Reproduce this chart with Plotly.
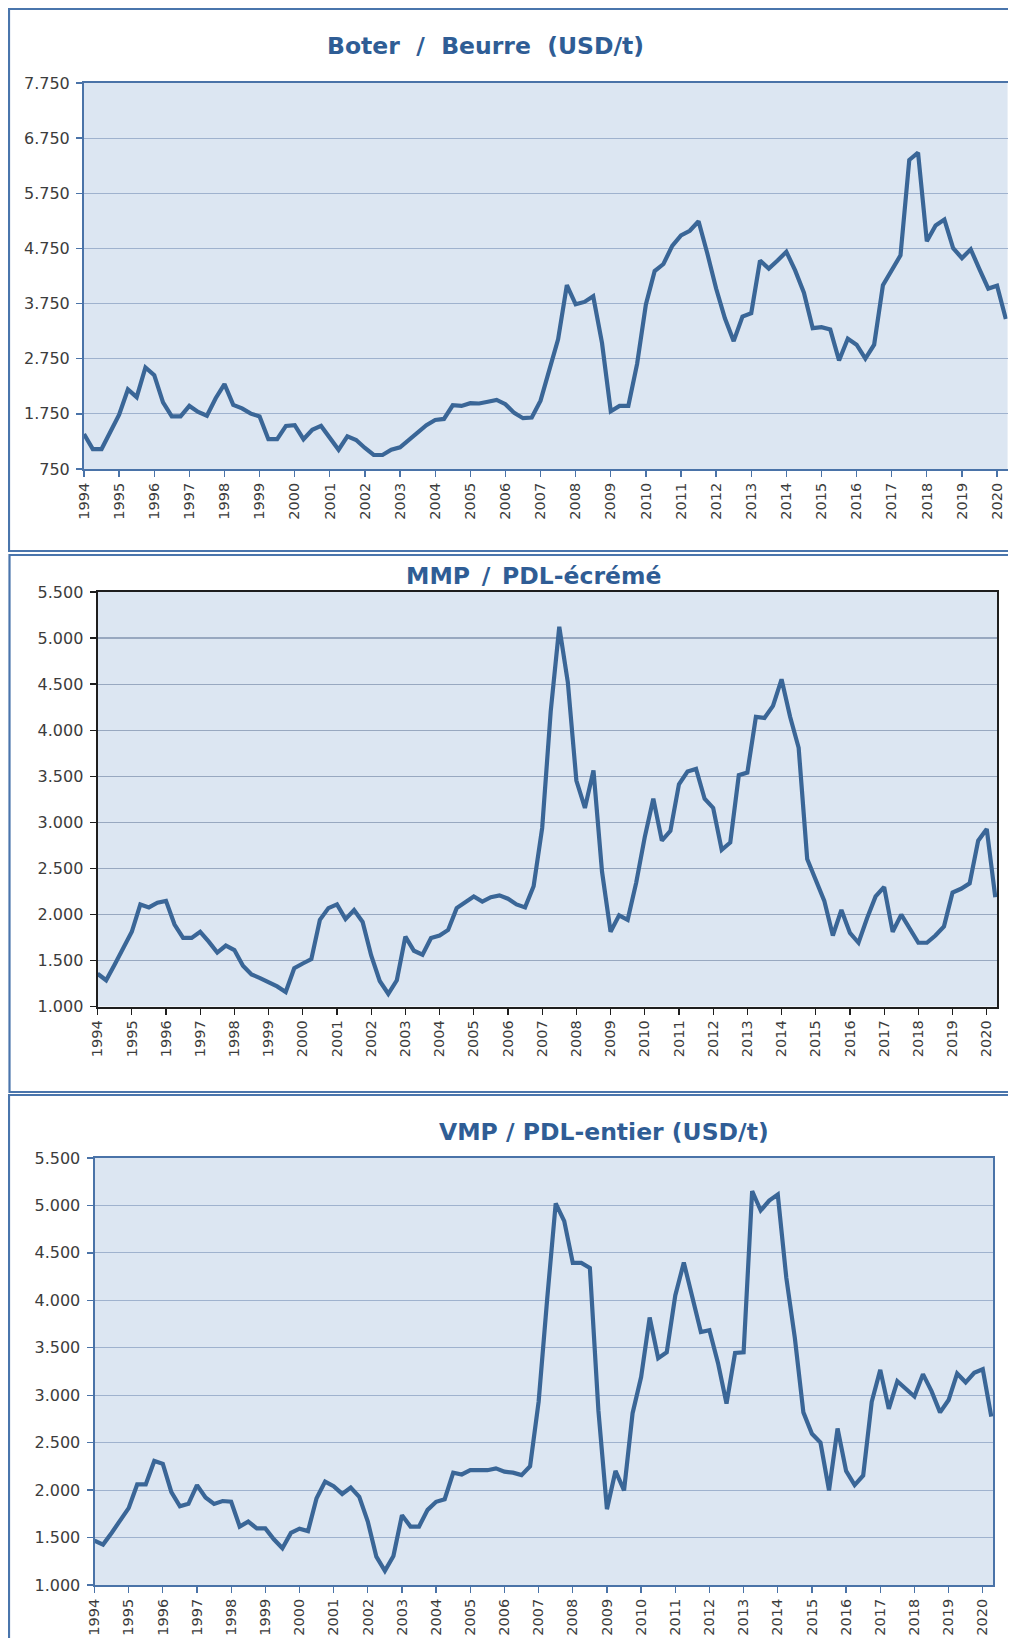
import plotly.graph_objects as go

# page is 1016x1646; the html body keeps its default 8px margin,
# so the figure itself is 1000x1630 and sits at (8, 8)
PAGE_OFF = 8
W, H = 1000, 1630

# ---------------- data (quarterly, 1994 Q1 .. 2020 Q2) ----------------
start_year = 1994
year_ticks = list(range(1994, 2021))
year_labels = [str(y) for y in year_ticks]

boter = [
    1385, 1112, 1112, 1417,   # 1994
    1735, 2192, 2052, 2592,   # 1995
    2453, 1957, 1703, 1703,   # 1996
    1894, 1786, 1716, 2033,   # 1997
    2288, 1913, 1849, 1754,   # 1998
    1703, 1290, 1290, 1531,   # 1999
    1544, 1290, 1462, 1531,   # 2000
    1322, 1099, 1341, 1277,   # 2001
    1131, 1004, 1004, 1099,   # 2002
    1144, 1271, 1398, 1544,   # 2003
    1639, 1658, 1906, 1894,   # 2004
    1944, 1938, 1970, 2002,   # 2005
    1925, 1767, 1671, 1684,   # 2006
    1989, 2529, 3101, 4085,   # 2007
    3736, 3780, 3882, 3037,   # 2008
    1798, 1894, 1894, 2656,   # 2009
    3736, 4340, 4467, 4797,   # 2010
    4988, 5070, 5242, 4657,   # 2011
    4022, 3482, 3069, 3514,   # 2012
    3577, 4530, 4384, 4530,   # 2013
    4689, 4352, 3946, 3304,   # 2014
    3323, 3279, 2719, 3113,   # 2015
    3005, 2751, 3005, 4085,   # 2016
    4371, 4625, 6354, 6487,   # 2017
    4880, 5166, 5274, 4753,   # 2018
    4575, 4734, 4371, 4022,   # 2019
    4073, 3469,               # 2020
]

mmp = [
    1356, 1285, 1455, 1633,
    1811, 2108, 2076, 2127,
    2147, 1890, 1744, 1744,
    1811, 1704, 1585, 1661,
    1613, 1443, 1348, 1309,
    1269, 1218, 1158, 1415,
    1467, 1514, 1941, 2068,
    2108, 1949, 2048, 1918,
    1554, 1277, 1138, 1285,
    1759, 1605, 1562, 1744,
    1771, 1831, 2068, 2127,
    2195, 2139, 2187, 2206,
    2170, 2108, 2076, 2305,
    2938, 4204, 5122, 4521,
    3453, 3156, 3563, 2464,
    1811, 1989, 1941, 2345,
    2839, 3255, 2800, 2907,
    3413, 3551, 3579, 3255,
    3156, 2701, 2780, 3512,
    3540, 4145, 4133, 4264,
    4552, 4145, 3809, 2602,
    2384, 2147, 1771, 2048,
    1799, 1692, 1957, 2195,
    2297, 1811, 1997, 1850,
    1692, 1692, 1771, 1870,
    2238, 2278, 2337, 2800,
    2926, 2187,
]

vmp = [
    1467, 1426, 1549, 1680,
    1810, 2060, 2060, 2307,
    2277, 1978, 1829, 1855,
    2053, 1922, 1855, 1885,
    1877, 1616, 1668, 1597,
    1597, 1482, 1388, 1549,
    1594, 1568, 1915, 2090,
    2042, 1960, 2027, 1930,
    1668, 1299, 1149, 1306,
    1736, 1616, 1616, 1792,
    1877, 1904, 2184, 2165,
    2210, 2210, 2210, 2229,
    2195, 2184, 2158, 2251,
    2931, 4013, 5022, 4835,
    4394, 4394, 4342, 2837,
    1799, 2202, 1997, 2811,
    3192, 3819, 3390, 3453,
    4051, 4398, 4051, 3666,
    3685, 3341, 2912, 3446,
    3453, 5152, 4947, 5052,
    5115, 4238, 3603, 2819,
    2594, 2501, 1997, 2650,
    2202, 2053, 2154, 2931,
    3267, 2856, 3147, 3069,
    2987, 3222, 3043, 2819,
    2949, 3229, 3136, 3237,
    3274, 2774,
]

titles = [
    "Boter\u00a0\u00a0/\u00a0\u00a0Beurre\u00a0\u00a0(USD/t)",
    "MMP\u2002/\u2002PDL-écrémé",
    "VMP / PDL-entier (USD/t)",
]

# quarterly category positions
quarters = [start_year + i / 4 for i in range(len(boter))]

# ---------------- styling ----------------
LINE = "#3A6697"
BG = "#DCE6F2"
GRID = "#9FB2CE"
BLUE_AX = "#4A73A8"
TXT = "#3C3C3C"
TITLE = "#2F5D95"
FONT = "DejaVu Sans"


def px(x):
    return (x - PAGE_OFF) / W


def py(y):
    return 1 - (y - PAGE_OFF) / H


panels = [
    dict(vals=boter, x=(84, 1007.6), y=(83, 469), yr=(750, 7750), dt=1000,
         t0=750, axc=BLUE_AX, gridc=GRID, title_xy=(485, 46)),
    dict(vals=mmp, x=(97.6, 997), y=(592, 1006.5), yr=(1000, 5500), dt=500,
         t0=1000, axc="#1E1E1E", gridc="#98A8C0", title_xy=(533, 576)),
    dict(vals=vmp, x=(94.5, 993), y=(1158, 1585), yr=(1000, 5500), dt=500,
         t0=1000, axc=BLUE_AX, gridc=GRID, title_xy=(604, 1132)),
]

fig = go.Figure()
layout = dict(
    width=W, height=H,
    margin=dict(l=0, r=0, t=0, b=0, autoexpand=False),
    paper_bgcolor="white",
    plot_bgcolor=BG,
    showlegend=False,
    separators=",.",
    font=dict(family=FONT, color=TXT),
    annotations=[],
    shapes=[],
)

for i, p in enumerate(panels):
    n = "" if i == 0 else str(i + 1)
    fig.add_trace(go.Scatter(
        x=quarters, y=p["vals"], mode="lines",
        line=dict(color=LINE, width=4.2),
        xaxis="x" + n, yaxis="y" + n, hoverinfo="skip",
    ))
    layout["xaxis" + n] = dict(
        domain=[px(p["x"][0]), px(p["x"][1])],
        anchor="y" + n,
        range=[1994, 2020.3],
        tickmode="array", tickvals=year_ticks, ticktext=year_labels,
        tickangle=-90,
        tickfont=dict(size=14.5, color=TXT, family=FONT),
        ticks="outside", ticklen=6, tickwidth=1.3, tickcolor=p["axc"],
        showline=True, linecolor=p["axc"], linewidth=2, mirror=True,
        showgrid=False, zeroline=False, fixedrange=True, automargin=False,
    )
    layout["yaxis" + n] = dict(
        domain=[py(p["y"][1]), py(p["y"][0])],
        anchor="x" + n,
        range=list(p["yr"]),
        tickmode="linear", tick0=p["t0"], dtick=p["dt"],
        tickformat=",d",
        tickfont=dict(size=16, color=TXT, family=FONT),
        ticks="outside", ticklen=6, tickwidth=1.3, tickcolor=p["axc"],
        ticklabelstandoff=3,
        showline=True, linecolor=p["axc"], linewidth=2, mirror=True,
        showgrid=True, gridcolor=p["gridc"], gridwidth=1.2,
        zeroline=False, fixedrange=True, automargin=False,
    )
    tx, ty = p["title_xy"]
    layout["annotations"].append(dict(
        text="<b>" + titles[i] + "</b>", x=px(tx), y=py(ty),
        xref="paper", yref="paper", xanchor="center", yanchor="middle",
        showarrow=False, font=dict(size=23.5, color=TITLE, family=FONT),
    ))

# panel frames
frames = [(9, 9, 1040, 551), (9.5, 555, 1040, 1092), (9, 1095, 1040, 1670)]
for (x0, y0, x1, y1) in frames:
    layout["shapes"].append(dict(
        type="rect", xref="paper", yref="paper",
        x0=px(x0), x1=px(x1), y0=py(y1), y1=py(y0),
        line=dict(color="#4A75AC", width=2.2), layer="below",
    ))

fig.update_layout(**layout)
fig.write_html(
    "out.html",
    config={"displayModeBar": False, "staticPlot": True},
)
